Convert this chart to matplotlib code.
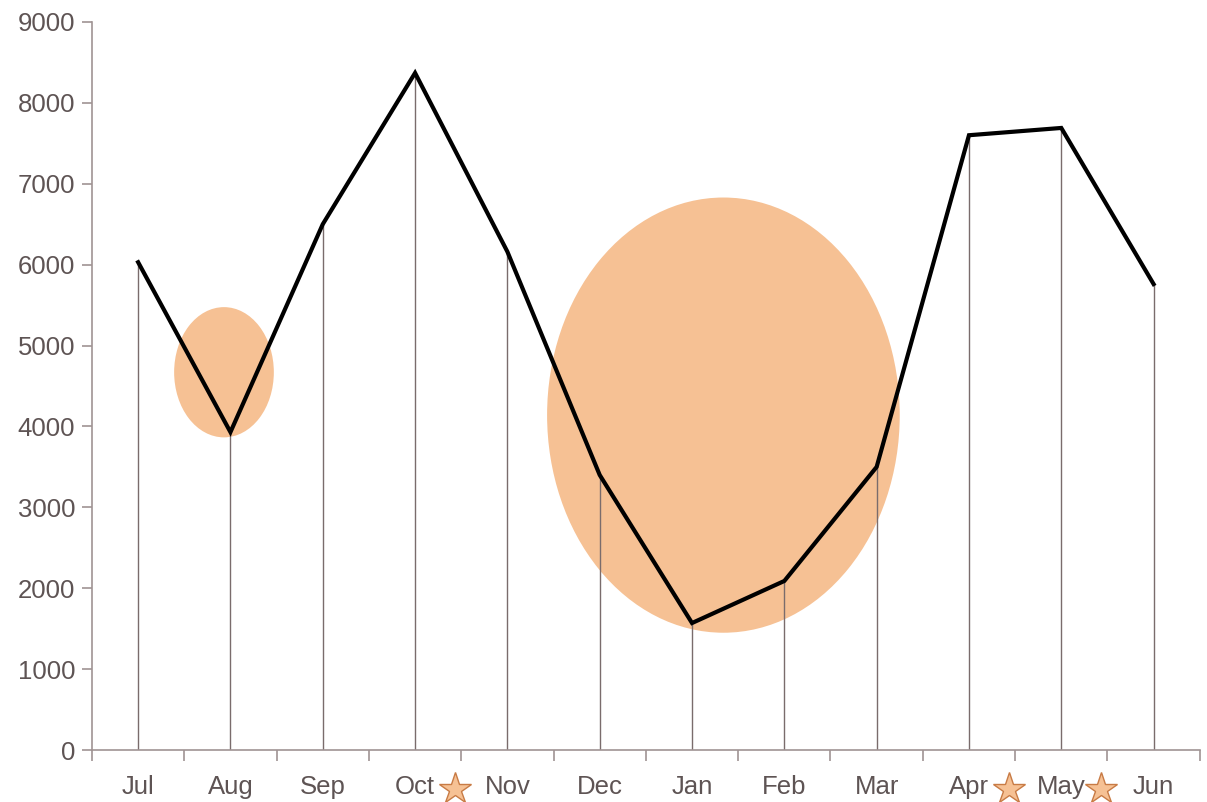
import matplotlib
matplotlib.use("Agg")
import matplotlib.pyplot as plt
from matplotlib.patches import Ellipse

plt.rcParams["font.family"] = ["Liberation Sans", "DejaVu Sans"]

months = ["Jul", "Aug", "Sep", "Oct", "Nov", "Dec", "Jan", "Feb", "Mar", "Apr", "May", "Jun"]
values = [6030, 3930, 6500, 8370, 6160, 3400, 1570, 2090, 3500, 7600, 7690, 5760]
starred = ["Oct", "Apr", "May"]

# highlight blobs: (x center, y center, width, height) in data units
blob_x = [0.93, 6.34]
blob_y = [4670, 4140]
blob_w = [1.08, 3.82]
blob_h = [1610, 5380]

axis_col = "#a09494"
text_col = "#5e5454"
orange = "#f6c194"

fig = plt.figure(figsize=(12.07, 8.02), dpi=100)
ax = fig.add_axes([0.0762, 0.0648, 0.9178, 0.9078])

xs = list(range(len(months)))

for cx, cy, w, h in zip(blob_x, blob_y, blob_w, blob_h):
    ax.add_patch(Ellipse((cx, cy), w, h, facecolor=orange, edgecolor="none", zorder=1))

ax.vlines(xs, 0, values, color="#7a6c6c", lw=1.0, zorder=2)
ax.plot(xs, values, color="black", lw=3.0, zorder=3, solid_joinstyle="miter")

ax.set_xlim(-0.5, len(months) - 0.5)
ax.set_ylim(0, 9000)
ax.set_yticks(range(0, 9001, 1000))
ax.set_xticks(xs)
ax.set_xticklabels(months)
ax.set_xticks([i - 0.5 for i in range(len(months) + 1)], minor=True)

for s in ["top", "right"]:
    ax.spines[s].set_visible(False)
for s in ["left", "bottom"]:
    ax.spines[s].set_color(axis_col)
    ax.spines[s].set_linewidth(1.2)

ax.tick_params(axis="x", which="major", length=0, pad=18, labelsize=18.5, labelcolor=text_col)
ax.tick_params(axis="x", which="minor", length=8, color=axis_col, width=1.2)
ax.tick_params(axis="y", length=7, color=axis_col, width=1.2, labelsize=18.5, labelcolor=text_col, pad=5)

# stars next to some month labels
trans = ax.get_xaxis_transform()
for m in starred:
    i = months.index(m)
    ax.plot(i + 0.43, -0.054, marker="*", markersize=24, markerfacecolor=orange,
            markeredgecolor="#c87b45", markeredgewidth=1.0, transform=trans, clip_on=False)

fig.savefig("out.png", dpi=100)
